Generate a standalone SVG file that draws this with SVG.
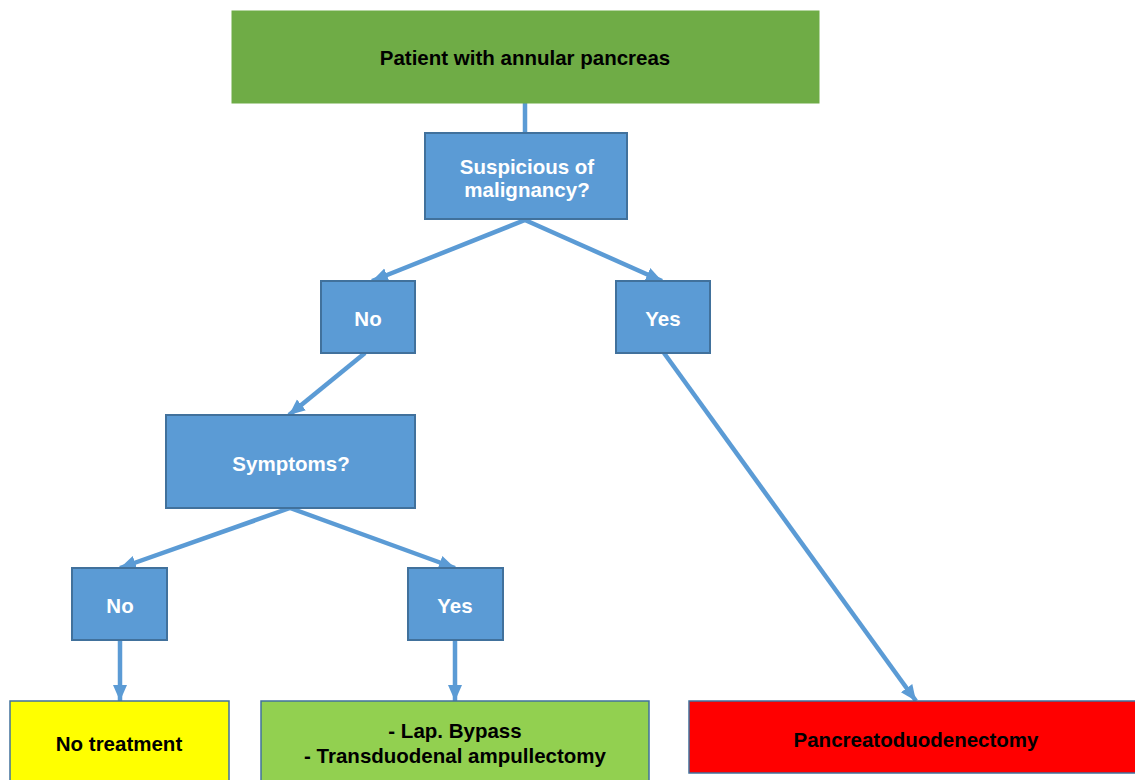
<svg xmlns="http://www.w3.org/2000/svg" width="1135" height="780" viewBox="0 0 1135 780">
<defs>
<marker id="ah" markerUnits="userSpaceOnUse" markerWidth="18" markerHeight="18" viewBox="0 0 18 18" refX="16" refY="9" orient="auto">
<path d="M0,2 L16,9 L0,16 Z" fill="#5b9bd5"/>
</marker>
<style>
.blue{fill:#5b9bd5;stroke:#41719c;stroke-width:2}
.t{font-family:"Liberation Sans",Arial,sans-serif;font-weight:bold;font-size:20.5px;text-anchor:middle}
.w{fill:#ffffff}
.k{fill:#000000}
.c{stroke:#5b9bd5;stroke-width:4.5;fill:none}
</style>
</defs>
<rect width="1135" height="780" fill="#ffffff"/>
<g id="connectors">
<line class="c" x1="525" y1="103" x2="525" y2="133"/>
<line class="c" x1="525" y1="220" x2="372" y2="281" marker-end="url(#ah)"/>
<line class="c" x1="525" y1="220" x2="662" y2="281" marker-end="url(#ah)"/>
<line class="c" x1="365" y1="353" x2="289" y2="415" marker-end="url(#ah)"/>
<line class="c" x1="290" y1="508" x2="120" y2="568" marker-end="url(#ah)"/>
<line class="c" x1="290" y1="508" x2="455" y2="568" marker-end="url(#ah)"/>
<line class="c" x1="120" y1="640" x2="120" y2="701" marker-end="url(#ah)"/>
<line class="c" x1="455" y1="640" x2="455" y2="701" marker-end="url(#ah)"/>
<line class="c" x1="664" y1="353" x2="916" y2="701" marker-end="url(#ah)"/>
</g>
<g id="start">
<rect x="232" y="11" width="587" height="92" fill="#6fac46" stroke="#6fac46" stroke-width="1"/>
<text class="t k" x="525" y="65">Patient with annular pancreas</text>
</g>
<g id="malignancy">
<rect class="blue" x="425" y="133" width="202" height="86"/>
<text class="t w" x="527" y="174">Suspicious of</text>
<text class="t w" x="527" y="197">malignancy?</text>
</g>
<g id="no1">
<rect class="blue" x="321" y="281" width="94" height="72"/>
<text class="t w" x="368" y="326">No</text>
</g>
<g id="yes1">
<rect class="blue" x="616" y="281" width="94" height="72"/>
<text class="t w" x="663" y="326">Yes</text>
</g>
<g id="symptoms">
<rect class="blue" x="166" y="415" width="249" height="93"/>
<text class="t w" x="291" y="471">Symptoms?</text>
</g>
<g id="no2">
<rect class="blue" x="72" y="568" width="95" height="72"/>
<text class="t w" x="120" y="613">No</text>
</g>
<g id="yes2">
<rect class="blue" x="408" y="568" width="95" height="72"/>
<text class="t w" x="455" y="613">Yes</text>
</g>
<g id="notreatment">
<rect x="10" y="701" width="219" height="85" fill="#ffff00" stroke="#41719c" stroke-width="1.5"/>
<text class="t k" x="119" y="751">No treatment</text>
</g>
<g id="surgery">
<rect x="261" y="701" width="388" height="85" fill="#92d050" stroke="#41719c" stroke-width="1.5"/>
<text class="t k" x="455" y="738">- Lap. Bypass</text>
<text class="t k" x="455" y="763">- Transduodenal ampullectomy</text>
</g>
<g id="pd">
<rect x="689" y="701" width="450" height="72" fill="#ff0000" stroke="#41719c" stroke-width="1.5"/>
<text class="t k" x="916" y="747">Pancreatoduodenectomy</text>
</g>
</svg>
